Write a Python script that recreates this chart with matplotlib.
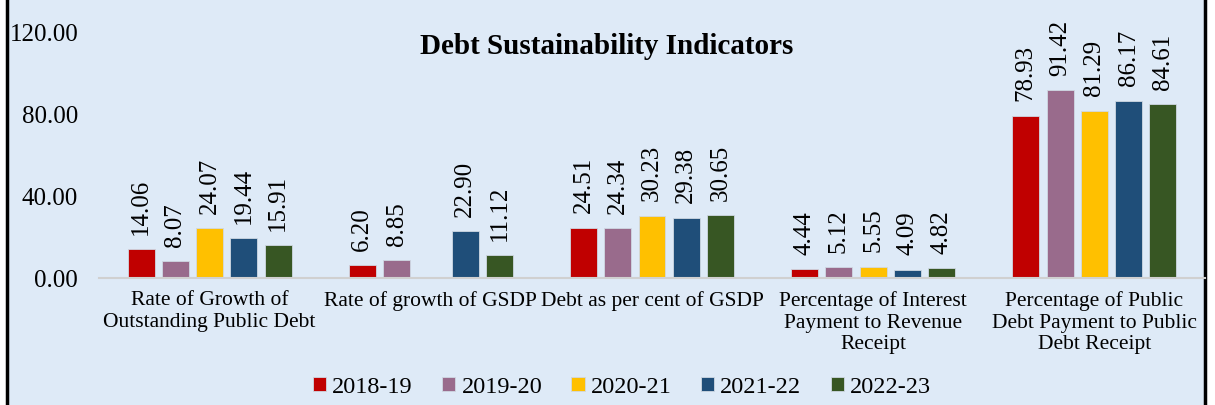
import numpy as np
import matplotlib.pyplot as plt
from matplotlib.patches import Rectangle

categories = ["Rate of Growth of\nOutstanding Public Debt",
              "Rate of growth of GSDP",
              "Debt as per cent of GSDP",
              "Percentage of Interest\nPayment to Revenue\nReceipt",
              "Percentage of Public\nDebt Payment to Public\nDebt Receipt"]
years = ["2018-19", "2019-20", "2020-21", "2021-22", "2022-23"]
v2018 = [14.06, 6.20, 24.51, 4.44, 78.93]
v2019 = [8.07, 8.85, 24.34, 5.12, 91.42]
v2020 = [24.07, np.nan, 30.23, 5.55, 81.29]
v2021 = [19.44, 22.90, 29.38, 4.09, 86.17]
v2022 = [15.91, 11.12, 30.65, 4.82, 84.61]
series = [v2018, v2019, v2020, v2021, v2022]
colors = ["#C00000", "#996B8C", "#FFC000", "#1F4E79", "#375623"]

plt.rcParams['font.family'] = ['Liberation Serif', 'DejaVu Serif']
bg = "#DEEAF7"

fig = plt.figure(figsize=(12.15, 4.06), dpi=100)
fig.patch.set_facecolor("white")
fig.patches.append(Rectangle((7/1215, -0.01), (1205-7)/1215, 1.02, transform=fig.transFigure,
                             facecolor=bg, edgecolor="black", linewidth=2.5, zorder=-10))

ax = fig.add_axes([99/1215, 1 - 279/406, (1205-99)/1215, (279-32)/406])
ax.set_zorder(5)
ax.set_facecolor("none")
x = np.arange(len(categories))
step = 0.155
width = 0.122
for i, (vals, c, lab) in enumerate(zip(series, colors, years)):
    pos = x + (i - 2) * step
    ax.bar(pos, vals, width, color=c, label=lab, edgecolor="#cfd8e3", linewidth=0.6)
    for p, v in zip(pos, vals):
        if np.isnan(v):
            continue
        ax.annotate(f"{v:.2f}", (p, v), xytext=(0, 11), textcoords="offset points",
                    rotation=90, ha="center", va="bottom", fontsize=18)

ax.set_ylim(0, 120)
ax.set_xlim(-0.5, 4.5)
ax.set_yticks([0, 40, 80, 120])
ax.set_yticklabels(["0.00", "40.00", "80.00", "120.00"], fontsize=18)
ax.set_xticks(x)
ax.set_xticklabels(categories, fontsize=15.5, linespacing=1.15)
for s in ["top", "right", "left"]:
    ax.spines[s].set_visible(False)
ax.spines["bottom"].set_color("#D0D0D0")
ax.spines["bottom"].set_linewidth(1.5)
ax.tick_params(axis="both", length=0)
ax.tick_params(axis="y", pad=15)
ax.tick_params(axis="x", pad=9)

fig.text(607/1215, 1 - 47/406, "Debt Sustainability Indicators", ha="center", va="center",
         fontsize=21, fontweight="bold")

leg = fig.legend(loc="center", bbox_to_anchor=(622/1215, 1 - 388/406), ncol=5, frameon=False,
                 fontsize=17.5, handlelength=0.55, handleheight=0.55, handletextpad=0.25,
                 columnspacing=1.2)

fig.savefig("out.png", dpi=100, facecolor=fig.get_facecolor())
